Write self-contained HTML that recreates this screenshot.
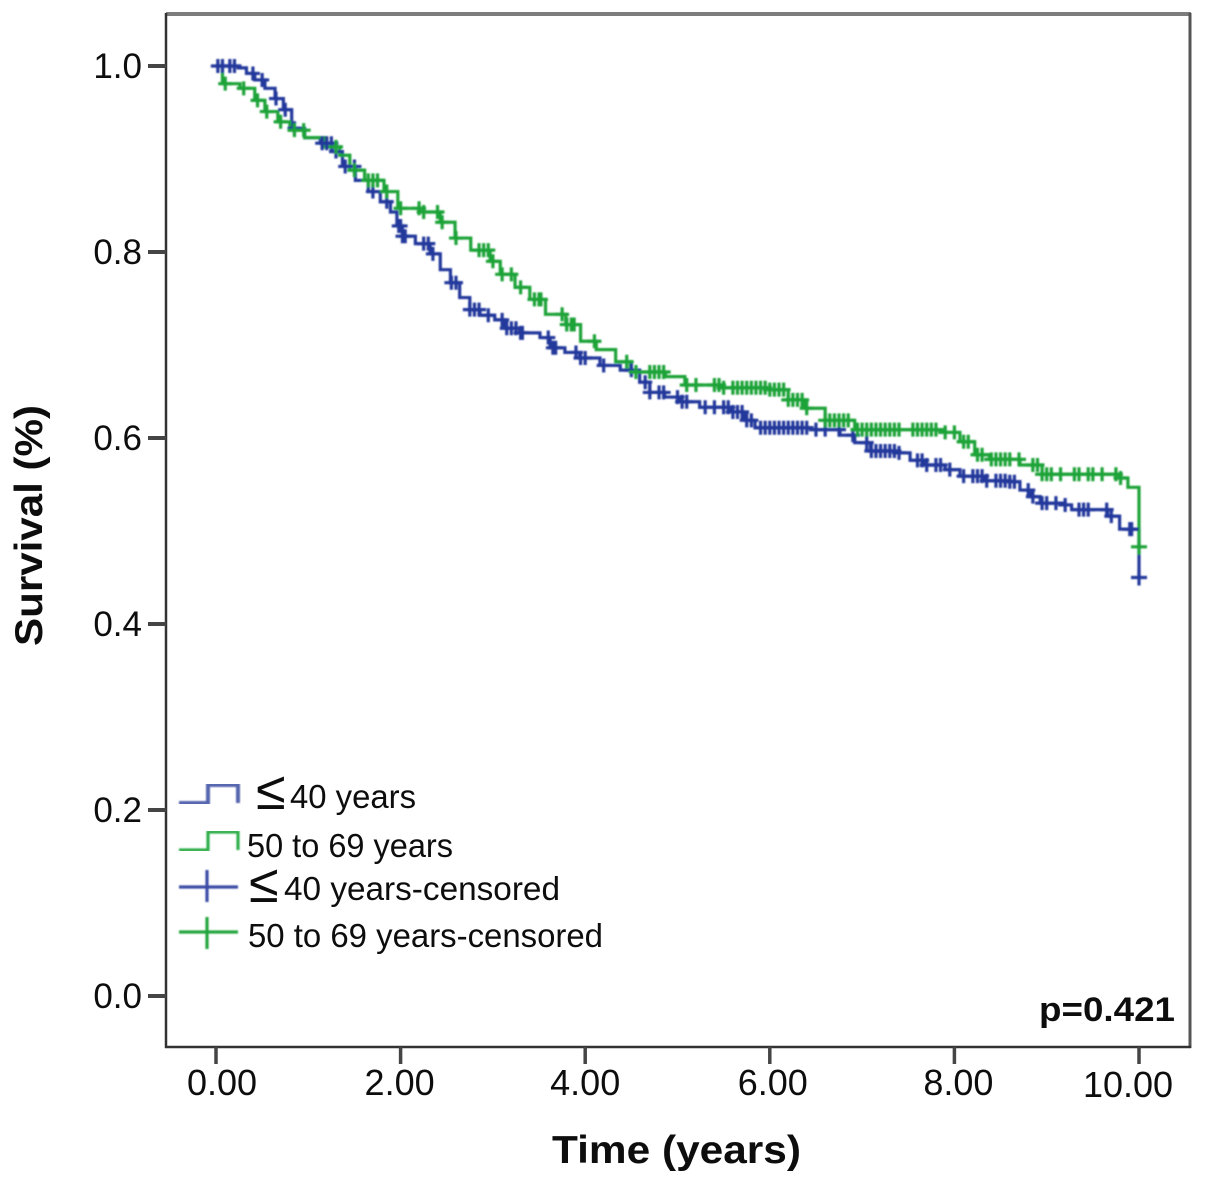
<!DOCTYPE html>
<html lang="en">
<head>
<meta charset="utf-8">
<title>Kaplan-Meier survival chart</title>
<style>
html,body{margin:0;padding:0;background:#fff;width:1205px;height:1185px;overflow:hidden}
svg{display:block}
text{font-family:"Liberation Sans",sans-serif;fill:#0c0c0c}
</style>
</head>
<body>
<svg id="chart" xmlns="http://www.w3.org/2000/svg" width="1205" height="1185" viewBox="0 0 1205 1185">
  <defs>
    <filter id="soft" x="-5%" y="-5%" width="110%" height="110%"><feGaussianBlur stdDeviation="0.7"/></filter>
    <filter id="softtext" x="-5%" y="-5%" width="110%" height="110%"><feGaussianBlur stdDeviation="0.35"/></filter>
  </defs>
  <rect width="1205" height="1185" fill="#fff"/>
  <g id="frame">
    <line x1="166" y1="14" x2="1191" y2="14" stroke="#7d7d7d" stroke-width="4"/>
    <line x1="1190" y1="13" x2="1190" y2="1048" stroke="#555" stroke-width="3"/>
    <line x1="166" y1="13" x2="166" y2="1048" stroke="#333" stroke-width="2.5"/>
    <line x1="165" y1="1047" x2="1191" y2="1047" stroke="#333" stroke-width="2.5"/>
  </g>
  <g id="axes" filter="url(#softtext)"></g>
  <g id="curves" filter="url(#soft)"></g>
  <g filter="url(#softtext)">
    <text transform="translate(42,525.5) rotate(-90)" text-anchor="middle" font-size="39" font-weight="700" textLength="241" lengthAdjust="spacingAndGlyphs">Survival (%)</text>
    <text x="552" y="1163" font-size="39" font-weight="700" textLength="249" lengthAdjust="spacingAndGlyphs">Time (years)</text>
    <text x="1039" y="1021" font-size="34" font-weight="700" textLength="136" lengthAdjust="spacingAndGlyphs">p=0.421</text>
  </g>
  <g>
    <g>
      <path d="M179 803H208V785H238V803" fill="none" stroke="#5565ae" stroke-width="4" filter="url(#soft)"/>
      <text x="256" y="809" font-size="54" filter="url(#softtext)">≤</text>
      <text x="290" y="808" font-size="33" textLength="126" lengthAdjust="spacingAndGlyphs" filter="url(#softtext)">40 years</text>
    </g>
    <g>
      <path d="M179 850H208V832H238V850" fill="none" stroke="#2fae4a" stroke-width="3.2" filter="url(#soft)"/>
      <text x="247" y="857" font-size="33" textLength="206" lengthAdjust="spacingAndGlyphs" filter="url(#softtext)">50 to 69 years</text>
    </g>
    <g>
      <path d="M179 887H238M207 870V902" fill="none" stroke="#3a4ca6" stroke-width="3.2" filter="url(#soft)"/>
      <text x="249" y="902" font-size="54" filter="url(#softtext)">≤</text>
      <text x="284" y="900" font-size="33" textLength="276" lengthAdjust="spacingAndGlyphs" filter="url(#softtext)">40 years-censored</text>
    </g>
    <g>
      <path d="M179 932H238M207 917V949" fill="none" stroke="#22a63e" stroke-width="3.2" filter="url(#soft)"/>
      <text x="248" y="947" font-size="33" textLength="355" lengthAdjust="spacingAndGlyphs" filter="url(#softtext)">50 to 69 years-censored</text>
    </g>
  </g>
</svg>
<script>
const xTickValues = [0, 2, 4, 6, 8, 10];
const xTickLabels = ["0.00", "2.00", "4.00", "6.00", "8.00", "10.00"];
const yTickValues = [0, 0.2, 0.4, 0.6, 0.8, 1];
const yTickLabels = ["0.0", "0.2", "0.4", "0.6", "0.8", "1.0"];

const youngTimes = [0,0.24,0.33,0.42,0.53,0.64,0.73,0.82,0.96,1.13,1.26,1.37,1.51,1.65,1.78,1.89,1.96,2.02,2.16,2.32,2.43,2.54,2.64,2.75,2.86,3.02,3.13,3.29,3.51,3.62,3.78,3.94,4.16,4.38,4.59,4.70,4.86,5.03,5.24,5.57,5.73,5.84,6.44,6.76,6.92,7.09,7.36,7.52,7.68,7.90,8.06,8.33,8.60,8.71,8.82,8.93,9.20,9.27,9.66,9.79,10];
const youngSurvival = [1.0,0.998,0.992,0.985,0.976,0.965,0.953,0.933,0.923,0.917,0.908,0.892,0.877,0.865,0.854,0.843,0.828,0.817,0.809,0.798,0.781,0.767,0.751,0.738,0.732,0.727,0.718,0.713,0.708,0.697,0.692,0.686,0.678,0.673,0.660,0.649,0.644,0.639,0.633,0.628,0.619,0.611,0.609,0.603,0.595,0.586,0.584,0.576,0.571,0.566,0.559,0.554,0.553,0.544,0.537,0.530,0.528,0.523,0.516,0.502,0.45];
const olderTimes = [0,0.07,0.26,0.42,0.53,0.67,0.80,0.96,1.18,1.34,1.45,1.61,1.82,1.97,2.21,2.43,2.59,2.76,2.97,3.08,3.24,3.40,3.57,3.79,3.95,4.12,4.33,4.49,4.87,5.08,5.46,6.0,6.2,6.38,6.6,6.92,7.52,7.9,8.06,8.22,8.38,8.71,8.95,9.79,9.88,10];
const olderSurvival = [1.0,0.981,0.976,0.963,0.951,0.94,0.931,0.923,0.913,0.904,0.888,0.877,0.865,0.847,0.843,0.832,0.815,0.802,0.790,0.776,0.762,0.749,0.733,0.722,0.704,0.695,0.682,0.671,0.666,0.657,0.654,0.652,0.641,0.632,0.619,0.609,0.609,0.606,0.596,0.582,0.577,0.571,0.561,0.557,0.547,0.483];

const youngCensored = [0.02,0.07,0.15,0.2,0.4,0.5,0.65,0.75,0.85,1.15,1.2,1.25,1.3,1.4,1.5,1.7,1.85,1.98,2.0,2.02,2.05,2.25,2.3,2.35,2.55,2.6,2.75,2.8,2.85,2.95,3.1,3.15,3.2,3.25,3.3,3.32,3.6,3.65,3.68,3.9,3.95,4.0,4.2,4.5,4.65,4.7,4.8,4.85,5.0,5.05,5.1,5.3,5.4,5.5,5.55,5.6,5.65,5.7,5.75,5.8,5.9,5.95,6.0,6.05,6.1,6.15,6.2,6.25,6.3,6.35,6.4,6.5,6.6,6.75,6.9,7.05,7.1,7.15,7.2,7.25,7.3,7.35,7.4,7.6,7.65,7.7,7.8,7.85,7.95,8.1,8.2,8.25,8.3,8.35,8.45,8.5,8.55,8.6,8.65,8.8,8.85,8.95,9.0,9.1,9.2,9.35,9.4,9.45,9.65,9.7,9.9,9.92,10];
const olderCensored = [0.1,0.3,0.45,0.55,0.7,0.85,0.95,1.3,1.5,1.65,1.7,1.75,1.85,2.0,2.2,2.25,2.4,2.45,2.6,2.85,2.9,2.95,3.0,3.1,3.2,3.3,3.45,3.5,3.52,3.75,3.8,3.85,3.88,4.1,4.45,4.55,4.7,4.75,4.8,4.85,5.1,5.2,5.4,5.45,5.5,5.6,5.65,5.7,5.75,5.8,5.85,5.9,5.95,6.0,6.05,6.1,6.15,6.2,6.25,6.3,6.35,6.4,6.6,6.65,6.7,6.75,6.8,6.85,6.95,7.0,7.05,7.1,7.15,7.2,7.25,7.3,7.35,7.4,7.55,7.6,7.65,7.7,7.75,7.8,7.9,8.0,8.1,8.15,8.25,8.3,8.4,8.45,8.5,8.55,8.6,8.7,8.85,8.9,8.95,9.0,9.05,9.15,9.3,9.35,9.45,9.5,9.6,9.75,9.8,10];

const SVGNS = "http://www.w3.org/2000/svg";
const xPos = t => 216 + (t / 10) * 923;
const yPos = s => 996 - s * 930;

function xLabelNudge(v) {
  if (v === 0) return 6;
  if (v === 2) return -1;
  if (v === 4) return 0;
  if (v === 6) return 3;
  if (v === 8) return 4;
  return -11;
}

function survivalAt(times, values, t) {
  let current = values[0];
  for (let i = 0; i < times.length; i++) {
    if (times[i] <= t) current = values[i];
  }
  return current;
}

function stepPath(times, values) {
  let d = "M" + xPos(times[0]) + " " + yPos(values[0]);
  for (let i = 1; i < times.length; i++) {
    d += "H" + xPos(times[i]) + "V" + yPos(values[i]);
  }
  return d;
}

const axes = document.getElementById("axes");
xTickValues.forEach((v, i) => {
  const tick = document.createElementNS(SVGNS, "line");
  
  
  tick.setAttribute("x1", xPos(v));
  tick.setAttribute("x2", xPos(v));
  tick.setAttribute("y1", 1047);
  tick.setAttribute("y2", 1064);
  tick.setAttribute("stroke", "#444");
  tick.setAttribute("stroke-width", 3.5);
  axes.appendChild(tick);
  const label = document.createElementNS(SVGNS, "text");
  
  
  label.setAttribute("x", xPos(v) + xLabelNudge(v));
  label.setAttribute("y", v === 10 ? 1097 : 1095);
  label.setAttribute("text-anchor", "middle");
  label.setAttribute("font-size", 36);
  label.textContent = xTickLabels[i];
  axes.appendChild(label);
});
yTickValues.forEach((v, i) => {
  const tick = document.createElementNS(SVGNS, "line");
  
  
  tick.setAttribute("x1", 148);
  tick.setAttribute("x2", 166);
  tick.setAttribute("y1", yPos(v));
  tick.setAttribute("y2", yPos(v));
  tick.setAttribute("stroke", "#444");
  tick.setAttribute("stroke-width", 4);
  axes.appendChild(tick);
  const label = document.createElementNS(SVGNS, "text");
  
  
  label.setAttribute("x", 142);
  label.setAttribute("y", yPos(v) + 12);
  label.setAttribute("text-anchor", "end");
  label.setAttribute("font-size", 35);
  label.textContent = yTickLabels[i];
  axes.appendChild(label);
});

const curves = document.getElementById("curves");

const youngLine = document.createElementNS(SVGNS, "path");


youngLine.setAttribute("d", stepPath(youngTimes, youngSurvival));
youngLine.setAttribute("fill", "none");
youngLine.setAttribute("stroke", "#23379b");
youngLine.setAttribute("stroke-width", 3.2);
curves.appendChild(youngLine);

const olderLine = document.createElementNS(SVGNS, "path");


olderLine.setAttribute("d", stepPath(olderTimes, olderSurvival));
olderLine.setAttribute("fill", "none");
olderLine.setAttribute("stroke", "#1fa339");
olderLine.setAttribute("stroke-width", 3.2);
curves.appendChild(olderLine);

function censorMark(cx, cy, color, arm) {
  const mark = document.createElementNS(SVGNS, "path");
  
  
  mark.setAttribute("d", "M" + (cx - arm) + " " + cy + "H" + (cx + arm) + "M" + cx + " " + (cy - arm) + "V" + (cy + arm));
  mark.setAttribute("fill", "none");
  mark.setAttribute("stroke", color);
  mark.setAttribute("stroke-width", 3.2);
  curves.appendChild(mark);
}

youngCensored.forEach(t => {
  censorMark(xPos(t), yPos(survivalAt(youngTimes, youngSurvival, t)), "#23379b", t === 10 ? 8 : 7);
});
olderCensored.forEach(t => {
  censorMark(xPos(t), yPos(survivalAt(olderTimes, olderSurvival, t)), "#1fa339", t === 10 ? 8 : 7);
});
</script>
</body>
</html>
